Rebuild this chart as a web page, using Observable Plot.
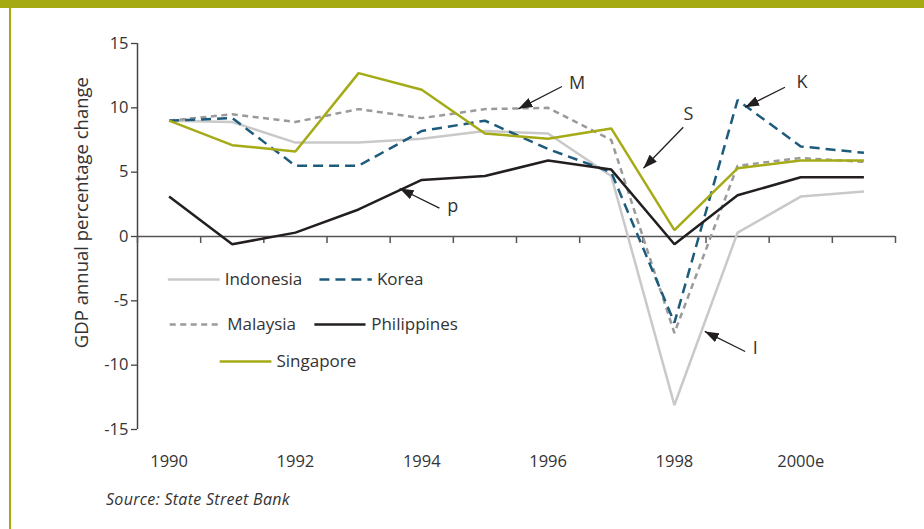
<!DOCTYPE html>
<html>
<head>
<meta charset="utf-8">
<script src="https://cdn.jsdelivr.net/npm/d3@7"></script>
<script src="https://cdn.jsdelivr.net/npm/@observablehq/plot@0.6"></script>
<style>
html, body { margin: 0; padding: 0; background: #fff; }
#wrap { position: relative; width: 924px; height: 529px; overflow: hidden; font-family: "Open Sans", sans-serif; }
#band { position: absolute; left: 0; top: 0; width: 924px; height: 8px; background: #a6aa12; }
#vline { position: absolute; left: 9px; top: 0; width: 2px; height: 529px; background: #a6aa12; }
#chart { position: absolute; left: 0; top: 0; }
#source { position: absolute; left: 106px; top: 488px; font-style: italic; font-size: 16px; color: #333; letter-spacing: 0.3px; }
</style>
</head>
<body>
<div id="wrap">
  <div id="band"></div>
  <div id="vline"></div>
  <div id="chart"></div>
  <div id="source">Source: State Street Bank</div>
</div>
<script>
// ---- data ----
const years = [1990, 1991, 1992, 1993, 1994, 1995, 1996, 1997, 1998, 1999, 2000, 2001];
const indonesia   = [9.0, 8.9, 7.3, 7.3, 7.6, 8.2, 8.0, 4.7, -13.1, 0.3, 3.1, 3.5];
const korea       = [9.0, 9.2, 5.5, 5.5, 8.2, 9.0, 6.8, 5.0, -6.7, 10.6, 7.0, 6.5];
const malaysia    = [9.0, 9.5, 8.9, 9.9, 9.2, 9.9, 10.0, 7.5, -7.5, 5.5, 6.1, 5.8];
const philippines = [3.1, -0.6, 0.3, 2.1, 4.4, 4.7, 5.9, 5.2, -0.6, 3.2, 4.6, 4.6];
const singapore   = [9.0, 7.1, 6.6, 12.7, 11.4, 8.0, 7.6, 8.4, 0.5, 5.3, 5.9, 5.9];

const seriesNames = ["Indonesia", "Korea", "Malaysia", "Philippines", "Singapore"];
const tickYears = [1990, 1992, 1994, 1996, 1998, 2000];
const tickLabels = ["1990", "1992", "1994", "1996", "1998", "2000e"];
const yTicks = [-15, -10, -5, 0, 5, 10, 15];
const yTitle = "GDP annual percentage change";

// annotation letters and arrows (data coordinates)
const annoLetters = ["M", "p", "S", "K", "I"];
const annoTextX = [1996.46, 1994.49, 1998.22, 2000.02, 1999.28];
const annoTextY = [11.89, 2.33, 9.53, 11.99, -8.65];
const arrowX1 = [1996.22, 1994.28, 1998.14, 1999.75, 1999.12];
const arrowY1 = [11.66, 2.2, 8.49, 11.6, -8.94];
const arrowX2 = [1995.53, 1993.65, 1997.51, 1999.12, 1998.48];
const arrowY2 = [9.92, 3.73, 5.31, 10.05, -7.38];

// ---- styles ----
const styles = {
  Indonesia:   { stroke: "#c9c9c9", dash: null },
  Korea:       { stroke: "#1d5b7c", dash: "10,6" },
  Malaysia:    { stroke: "#9a9a9a", dash: "6,4.5" },
  Philippines: { stroke: "#231f20", dash: null },
  Singapore:   { stroke: "#a4ab16", dash: null }
};
// legend layout (data coordinates inside the frame)
const legendLayout = {
  Indonesia:   { x1: 1989.98, x2: 1990.80, y: -3.34, tx: 1990.88 },
  Korea:       { x1: 1992.38, x2: 1993.21, y: -3.34, tx: 1993.29 },
  Malaysia:    { x1: 1990.01, x2: 1990.80, y: -6.84, tx: 1990.92 },
  Philippines: { x1: 1992.30, x2: 1993.11, y: -6.84, tx: 1993.20 },
  Singapore:   { x1: 1990.80, x2: 1991.62, y: -9.71, tx: 1991.70 }
};

const valuesByName = { Indonesia: indonesia, Korea: korea, Malaysia: malaysia, Philippines: philippines, Singapore: singapore };
const drawOrder = ["Indonesia", "Malaysia", "Korea", "Philippines", "Singapore"];

const boundaries = years.map(y => y - 0.5).concat([years[years.length - 1] + 0.5]);

const lineMarks = drawOrder.map(name => {
  const rows = years.map((yr, i) => ({ year: yr, value: valuesByName[name][i] }));
  return Plot.line(rows, {
    x: "year", y: "value",
    stroke: styles[name].stroke,
    strokeWidth: 2.5,
    strokeDasharray: styles[name].dash || undefined,
    strokeLinejoin: "miter", strokeLinecap: "butt"
  });
});

const legendRows = seriesNames.map(name => ({ name, ...legendLayout[name] }));
const legendSwatches = seriesNames.map(name => Plot.link([legendLayout[name]], {
  x1: "x1", x2: "x2", y1: "y", y2: "y",
  stroke: styles[name].stroke, strokeWidth: 2.5,
  strokeDasharray: styles[name].dash || undefined
}));

const annos = annoLetters.map((t, i) => ({
  t, tx: annoTextX[i], ty: annoTextY[i],
  x1: arrowX1[i], y1: arrowY1[i], x2: arrowX2[i], y2: arrowY2[i]
}));

const plot = Plot.plot({
  width: 924,
  height: 480,
  marginTop: 43,
  marginBottom: 51,
  marginLeft: 137,
  marginRight: 29,
  style: { fontFamily: "'Open Sans', sans-serif", fontSize: "16px", color: "#333", background: "transparent", overflow: "visible" },
  x: { domain: [boundaries[0], boundaries[boundaries.length - 1]] },
  y: { domain: [-15, 15] },
  marks: [
    Plot.axisY({ ticks: yTicks, tickFormat: d => String(d), tickSize: 6, tickPadding: 3, label: null, fontSize: 16.5, stroke: "#444", strokeWidth: 1.3 }),
    Plot.axisX({ ticks: tickYears, tickFormat: d => tickLabels[tickYears.indexOf(d)], tickSize: 0, tickPadding: 26, label: null, fontSize: 16.5 }),
    Plot.ruleX([boundaries[0]], { stroke: "#444", strokeWidth: 1.5 }),
    Plot.ruleY([0], { stroke: "#555", strokeWidth: 1.5 }),
    Plot.ruleX(boundaries, { x: d => d, y1: 0, y2: 0, insetBottom: -7, stroke: "#555", strokeWidth: 1.5 }),
    ...lineMarks,
    ...legendSwatches,
    Plot.text(legendRows, { x: "tx", y: "y", text: "name", textAnchor: "start", fontSize: 17, fill: "#333" }),
    Plot.text([yTitle], { text: d => d, frameAnchor: "left", textAnchor: "middle", y: () => 1.86, dx: -55, rotate: -90, fontSize: 18.5, fill: "#333" }),
    Plot.link(annos, { x1: "x1", y1: "y1", x2: "x2", y2: "y2", stroke: "#231f20", strokeWidth: 1.3, ariaLabel: () => "annotation-arrow" }),
    Plot.text(annos, { x: "tx", y: "ty", text: "t", fontSize: 18, fill: "#333" })
  ]
});

// filled arrowheads for annotation links
const ns = "http://www.w3.org/2000/svg";
const defs = document.createElementNS(ns, "defs");
const marker = document.createElementNS(ns, "marker");
marker.setAttribute("id", "ahead");
marker.setAttribute("viewBox", "0 0 14 10");
marker.setAttribute("refX", "14");
marker.setAttribute("refY", "5");
marker.setAttribute("markerWidth", "14");
marker.setAttribute("markerHeight", "10");
marker.setAttribute("markerUnits", "userSpaceOnUse");
marker.setAttribute("orient", "auto");
const mp = document.createElementNS(ns, "path");
mp.setAttribute("d", "M0,0L14,5L0,10Z");
mp.setAttribute("fill", "#231f20");
marker.appendChild(mp);
defs.appendChild(marker);
plot.insertBefore(defs, plot.firstChild);
let arrowEls = Array.from(plot.querySelectorAll('path[aria-label="annotation-arrow"], line[aria-label="annotation-arrow"]'));
if (arrowEls.length === 0) {
  const linkGroups = plot.querySelectorAll('g[aria-label="link"]');
  const last = linkGroups[linkGroups.length - 1];
  if (last) arrowEls = Array.from(last.querySelectorAll("path, line"));
}
arrowEls.forEach(p => p.setAttribute("marker-end", "url(#ahead)"));

document.getElementById("chart").appendChild(plot);
</script>
</body>
</html>
